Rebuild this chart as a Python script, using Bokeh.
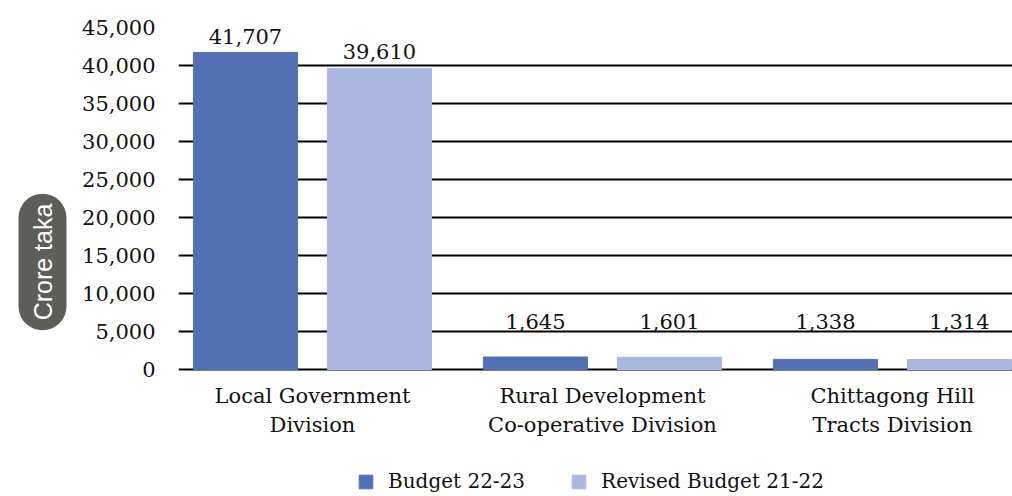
import numpy as np
from bokeh.plotting import figure
from bokeh.models import (Range1d, FixedTicker, NumeralTickFormatter, Title, Legend,
                          LegendItem, ColumnDataSource)
from bokeh.core.properties import value
from bokeh.embed import file_html
from bokeh.resources import INLINE

# ---- data ----
categories = ["Local Government\nDivision",
              "Rural Development\nCo-operative Division",
              "Chittagong Hill\nTracts Division"]
budget_22_23 = [41707, 1645, 1338]
revised_21_22 = [39610, 1601, 1314]
series_names = ["Budget 22-23", "Revised Budget 21-22"]
y_ticks = [0, 5000, 10000, 15000, 20000, 25000, 30000, 35000, 40000, 45000]
y_axis_title = "Crore taka"

# ---- style / layout constants ----
C_DARK = "#5470B4"
C_LIGHT = "#AAB8DF"
SERIF = "DejaVu Serif"
OFFSET = 0.231
BAR_W = 0.359
MIN_LABEL_LEVEL = 4200
Y_MAX = 45000
PLOT_PX = 342          # pixels between 0 and Y_MAX
BELOW_PX = 127         # room under the zero line for category labels and legend
Y_MIN = -BELOW_PX * Y_MAX / PLOT_PX

centers = np.arange(len(categories)) + 0.5

p = figure(width=1012, height=496,
           x_range=Range1d(0.038, 2.914), y_range=Range1d(Y_MIN, Y_MAX),
           output_backend="svg", toolbar_location=None,
           x_axis_location=None,
           min_border_left=178, min_border_right=0,
           min_border_top=27, min_border_bottom=0)
p.outline_line_color = None
p.background_fill_color = "white"
p.border_fill_color = "white"

src1 = ColumnDataSource(dict(
    x=centers - OFFSET, top=budget_22_23,
    ly=np.maximum(budget_22_23, MIN_LABEL_LEVEL),
    txt=[f"{v:,}" for v in budget_22_23]))
src2 = ColumnDataSource(dict(
    x=centers + OFFSET, top=revised_21_22,
    ly=np.maximum(revised_21_22, MIN_LABEL_LEVEL),
    txt=[f"{v:,}" for v in revised_21_22]))

r1 = p.vbar(x="x", top="top", bottom=0, width=BAR_W, source=src1,
            fill_color=C_DARK, line_color=C_DARK)
r2 = p.vbar(x="x", top="top", bottom=0, width=BAR_W, source=src2,
            fill_color=C_LIGHT, line_color=C_LIGHT)

for s in (src1, src2):
    p.text(x="x", y="ly", text="txt", source=s, y_offset=-9,
           text_align="center", text_baseline="bottom",
           text_font=value(SERIF), text_font_size="21px", text_color="#111111")

# category labels under the zero line
cat_src = ColumnDataSource(dict(x=centers, y=[0] * len(categories), t=categories))
p.text(x="x", y="y", text="t", source=cat_src, y_offset=14,
       text_align="center", text_baseline="top", text_line_height=1.24,
       text_font=value(SERIF), text_font_size="21px", text_color="#111111")

# grid + y axis
p.xgrid.visible = False
p.ygrid.ticker = FixedTicker(ticks=y_ticks)
p.ygrid.grid_line_color = "black"
p.ygrid.grid_line_width = 2

p.yaxis.ticker = FixedTicker(ticks=y_ticks)
p.yaxis.formatter = NumeralTickFormatter(format="0,0")
p.yaxis.axis_line_color = None
p.yaxis.major_tick_line_color = None
p.yaxis.minor_tick_line_color = None
p.yaxis.major_label_standoff = 17
p.yaxis.major_label_text_font = SERIF
p.yaxis.major_label_text_font_size = "21px"
p.yaxis.major_label_text_color = "#111111"

# y-axis title in rounded box (left side panel)
p.add_layout(Title(text=y_axis_title, align="center",
                   text_color="white", text_font="Liberation Sans",
                   text_font_size="25px", text_font_style="normal",
                   background_fill_color="#5E5E58",
                   padding=10, border_radius=24, standoff=26,
                   offset=71), "left")

legend = Legend(items=[LegendItem(label=series_names[0], renderers=[r1]),
                       LegendItem(label=series_names[1], renderers=[r2])],
                orientation="horizontal", location=(179, 3),
                border_line_color=None, background_fill_alpha=0,
                padding=0, margin=0, glyph_width=17, glyph_height=17,
                label_standoff=14, spacing=45,
                label_text_font=SERIF, label_text_font_size="20px",
                label_text_color="#111111")
p.add_layout(legend)

open("out.html", "w").write(file_html(p, INLINE))
